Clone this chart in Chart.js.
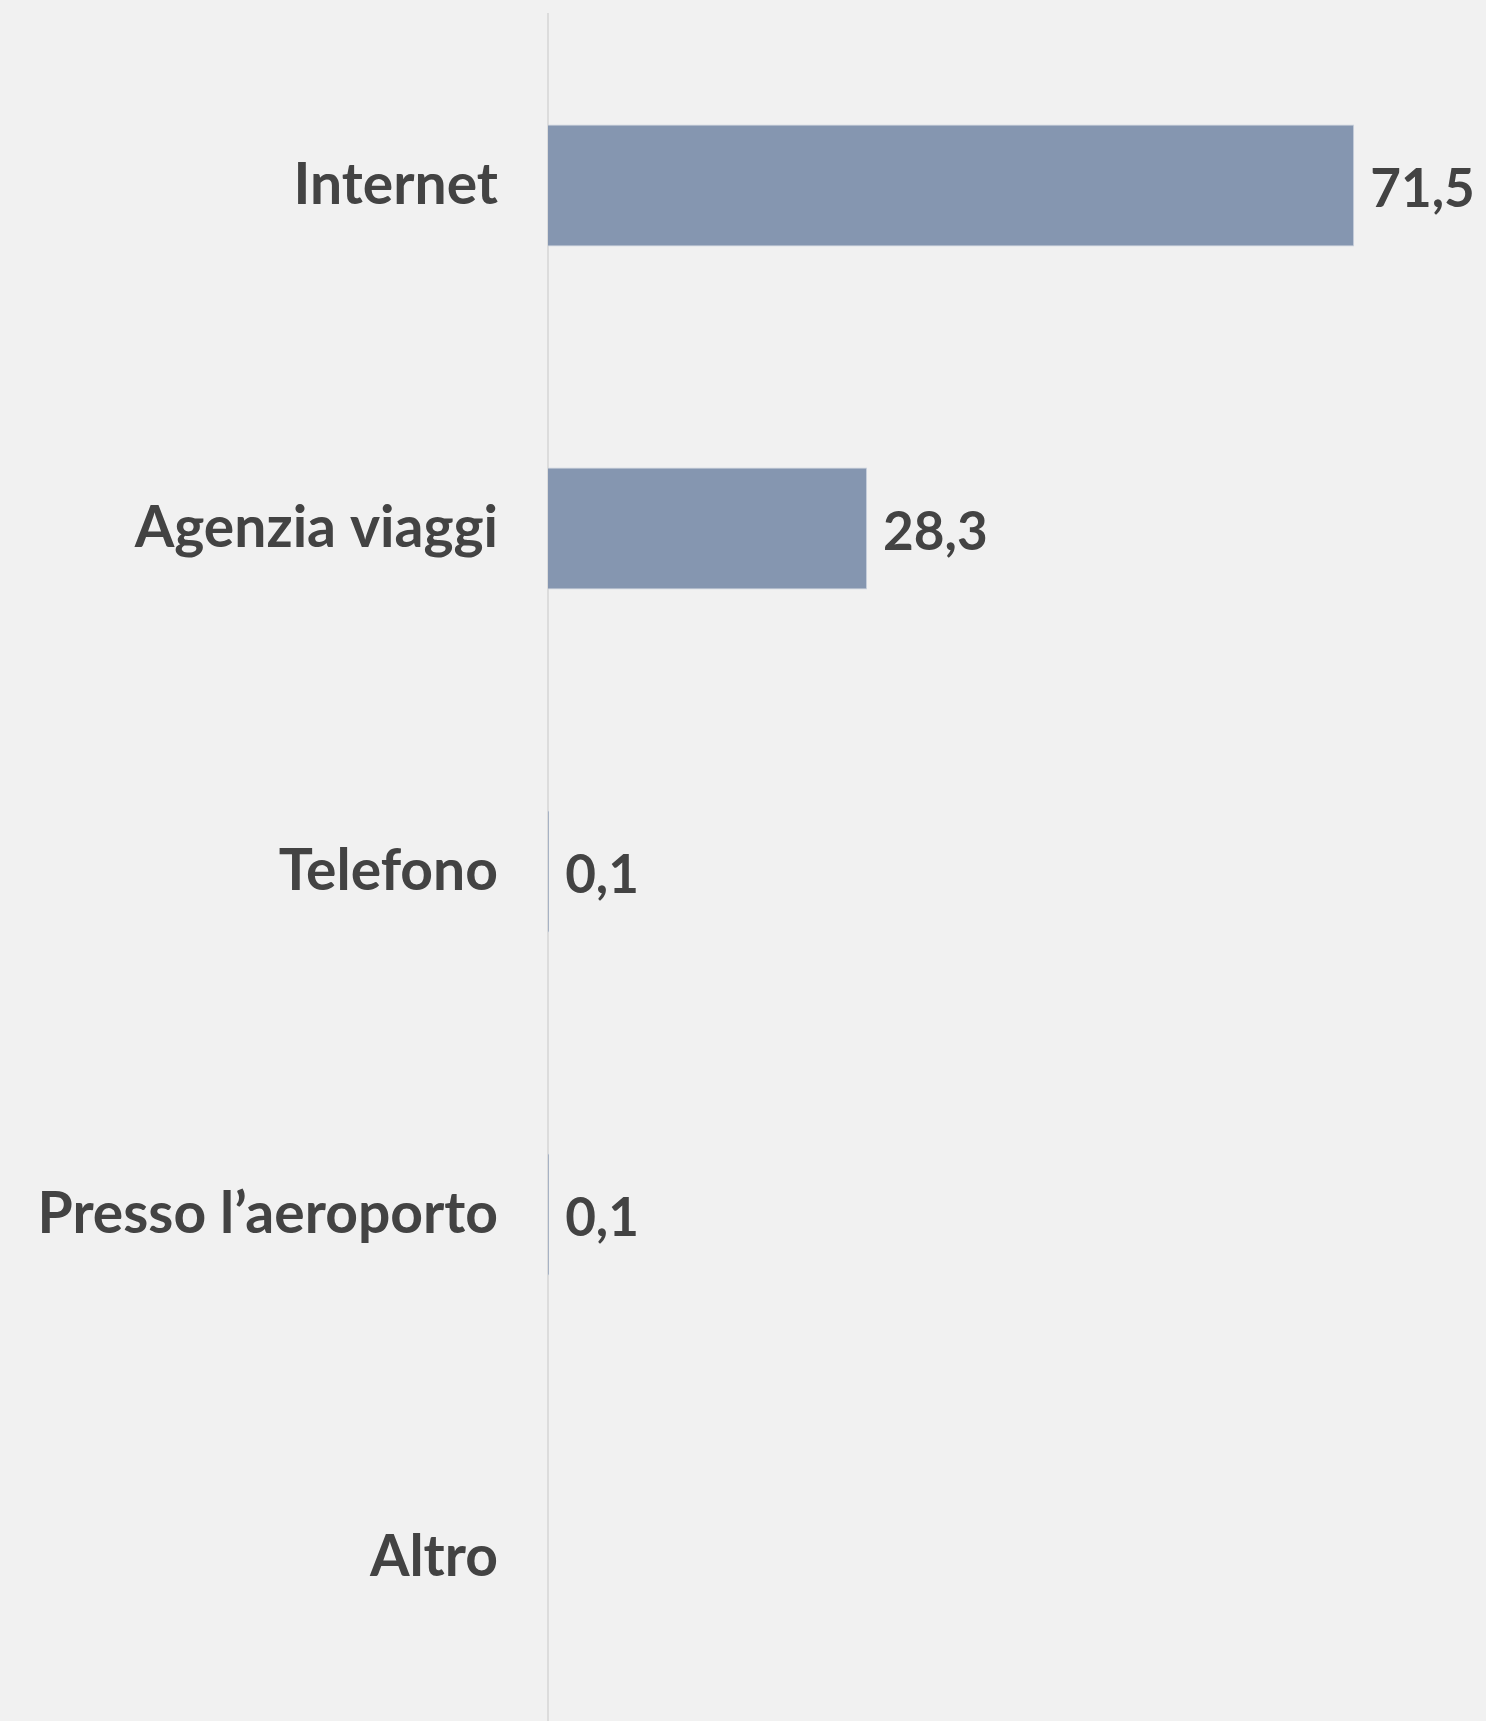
<!DOCTYPE html>
<html>
<head>
<meta charset="utf-8">
<script src="https://cdn.jsdelivr.net/npm/chart.js@4/dist/chart.umd.min.js"></script>
<style>
  html, body { margin: 0; padding: 0; background: #f1f1f1; overflow: hidden; }
  #wrap { width: 1486px; height: 1721px; overflow: hidden; }
</style>
</head>
<body>
<div id="wrap"><canvas id="bar-chart" width="1486" height="1729"></canvas></div>
<script>
const categories = ["Internet", "Agenzia viaggi", "Telefono", "Presso l\u2019aeroporto", "Altro"];
const values = [71.5, 28.3, 0.1, 0.1, 0];

const FONT = "Lato, 'Open Sans', sans-serif";
const TEXT = "#434343";

// value labels to the right of each bar, italian decimal comma
const valueLabels = {
  id: "valueLabels",
  afterDatasetsDraw(chart) {
    const ctx = chart.ctx;
    const meta = chart.getDatasetMeta(0);
    ctx.save();
    ctx.font = "bold 53px " + FONT;
    ctx.fillStyle = TEXT;
    ctx.textAlign = "left";
    ctx.textBaseline = "middle";
    meta.data.forEach(function(bar, i) {
      const v = values[i];
      if (!v) return;
      ctx.fillText(v.toFixed(1).replace(".", ","), bar.x + 16, bar.y + 4);
    });
    ctx.restore();
  }
};

new Chart(document.getElementById("bar-chart"), {
  type: "bar",
  data: {
    labels: categories,
    datasets: [{
      data: values,
      backgroundColor: "#8596b0",
      borderColor: "#c9d1dd",
      borderWidth: 1,
      categoryPercentage: 1,
      barPercentage: 0.355
    }]
  },
  options: {
    indexAxis: "y",
    responsive: false,
    animation: false,
    layout: { padding: { top: 14, right: 36, bottom: 0, left: 0 } },
    plugins: {
      legend: { display: false },
      tooltip: { enabled: false }
    },
    scales: {
      x: {
        display: false,
        min: 0,
        max: 80
      },
      y: {
        grid: { display: false },
        border: { display: true, color: "#dcdcdc", width: 2 },
        ticks: {
          color: TEXT,
          padding: 42,
          font: { family: FONT, size: 57, weight: "bold" }
        },
        afterFit(scale) {
          scale.width = 548;
          scale.paddingTop = 0;
          scale.paddingBottom = 0;
        }
      }
    }
  },
  plugins: [valueLabels]
});
</script>
</body>
</html>
